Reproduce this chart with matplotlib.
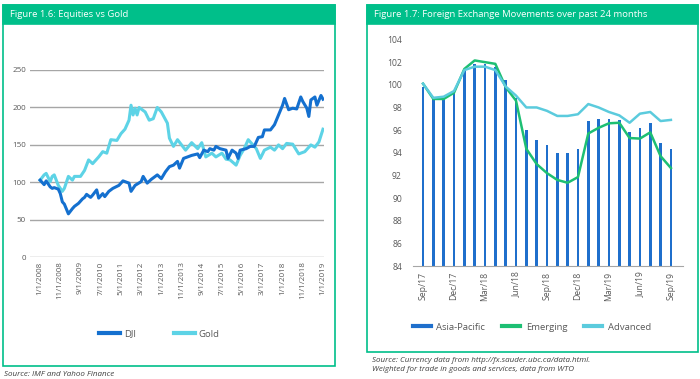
"""Equities vs gold, and FX movements over 24 months."""
import matplotlib
matplotlib.use('Agg')
from matplotlib import pyplot as plt
from matplotlib.lines import Line2D
from matplotlib.patches import Rectangle

# Figure 1.6 data (x = months since Jan 2008)
dji_month = [0, 2, 3, 5, 6, 7, 9, 10, 11, 12, 14, 16, 17, 19, 21, 22, 23, 25, 26, 28,
             29, 31, 32, 34, 36, 39, 41, 44, 45, 47, 50, 51, 53, 55, 58, 60, 62, 64, 66, 68,
             69, 71, 73, 75, 78, 79, 81, 83, 84, 86, 87, 89, 92, 93, 95, 97, 98, 99, 102, 104,
             106, 108, 110, 111, 114, 116, 118, 120, 121, 123, 125, 127, 129, 130, 132, 133,
             134, 136, 137, 139, 140]
dji = [103, 97, 102, 94, 92, 93, 91, 85, 74, 71, 58, 65, 68, 72, 78, 80, 84, 80, 83, 90,
       79, 85, 81, 88, 92, 96, 102, 99, 88, 96, 101, 108, 99, 104, 110, 105, 114, 121, 123, 128,
       119, 132, 134, 136, 138, 133, 143, 141, 145, 143, 148, 145, 143, 132, 143, 139, 132, 143,
       145, 148, 148, 160, 161, 170, 170, 177, 190, 203, 212, 197, 199, 198, 214, 208, 199, 188,
       210, 214, 203, 216, 211]
gold_month = [0, 2, 3, 5, 6, 7, 9, 11, 12, 14, 16, 17, 20, 22, 24, 26, 29, 31, 33, 35,
              38, 40, 42, 44, 45, 46, 47, 48, 49, 52, 54, 56, 58, 60, 63, 64, 66, 68, 72, 75,
              78, 80, 82, 85, 87, 90, 92, 94, 97, 99, 101, 103, 106, 107, 109, 111, 114, 116, 118, 120,
              122, 125, 128, 131, 134, 136, 138, 140]
gold = [103, 110, 112, 101, 108, 110, 96, 88, 92, 108, 103, 108, 108, 116, 130, 125, 134, 141, 139, 157,
        156, 165, 171, 183, 203, 190, 199, 190, 200, 194, 183, 185, 200, 194, 179, 159, 148, 157, 143, 153,
        145, 153, 134, 139, 134, 139, 131, 130, 123, 136, 145, 157, 148, 145, 132, 143, 147, 143, 150, 145,
        152, 151, 138, 141, 150, 147, 154, 171]
date_labels = ['1/1/2008', '11/1/2008', '9/1/2009', '7/1/2010', '5/1/2011', '3/1/2012',
               '1/1/2013', '11/1/2013', '9/1/2014', '7/1/2015', '5/1/2016', '3/1/2017',
               '1/1/2018', '11/1/2018', '1/1/2019']

# Figure 1.7 data (Sep/17 .. Sep/19)
fx_labels = ['Sep/17', 'Dec/17', 'Mar/18', 'Jun/18', 'Sep/18', 'Dec/18', 'Mar/19', 'Jun/19', 'Sep/19']
asia_pacific = [99.8, 98.8, 98.8, 99.3, 101.3, 101.8, 101.8, 101.6, 100.4, 98.85, 96.0, 95.1, 94.65,
                94.0, 93.95, 94.3, 96.8, 97.0, 96.95, 96.9, 95.85, 96.2, 96.6, 94.9, 94.35]
emerging = [100.1, 98.75, 98.75, 99.3, 101.4, 102.15, 102.0, 101.85, 99.8, 98.6, 94.35, 93.0, 92.2,
            91.6, 91.35, 91.85, 95.7, 96.2, 96.6, 96.65, 95.3, 95.25, 95.8, 93.7, 92.65]
advanced = [100.1, 98.85, 98.95, 99.45, 101.3, 101.6, 101.6, 101.3, 99.85, 99.05, 98.0, 98.0, 97.7,
            97.25, 97.25, 97.4, 98.3, 98.0, 97.6, 97.3, 96.65, 97.45, 97.6, 96.8, 96.9]

GREEN = '#00BF8A'
TXT = '#595959'
C_DJI, C_GOLD = '#1470CF', '#5DD3E6'
C_AP, C_EM, C_ADV = '#1F6FCC', '#1DBF73', '#5BCBDD'
plt.rcParams['font.family'] = ['Open Sans', 'DejaVu Sans']

fig = plt.figure(figsize=(7, 3.79), dpi=100)
W, H = 700, 379


def panel(x0, y0, x1, y1, title):
    # green frame with a header strip, in pixel coords
    fig.patches.append(Rectangle((x0 / W, 1 - y1 / H), (x1 - x0) / W, (y1 - y0) / H,
                                 transform=fig.transFigure, fill=False, ec=GREEN, lw=1.2))
    fig.patches.append(Rectangle((x0 / W, 1 - 24 / H), (x1 - x0) / W, (24 - y0) / H,
                                 transform=fig.transFigure, fc=GREEN, ec=GREEN, lw=1.2))
    fig.text((x0 + 7) / W, 1 - 14.5 / H, title, color='white', fontsize=6.8, va='center')


panel(3, 5, 335, 366, 'Figure 1.6: Equities vs Gold')
panel(367, 5, 698, 352, 'Figure 1.7: Foreign Exchange Movements over past 24 months')

# Left chart
ax = fig.add_axes([30 / W, 1 - 257.3 / H, 294 / W, 187.3 / H])
ax.plot(dji_month, dji, color=C_DJI, lw=2.2, zorder=3)
ax.plot(gold_month, gold, color=C_GOLD, lw=2.2, zorder=2)
ax.set_ylim(0, 250)
ax.set_xlim(-5, 140.5)
ax.set_yticks(range(0, 251, 50))
ax.set_xticks(range(0, 141, 10))
ax.set_xticklabels(date_labels, rotation=90)
ax.grid(axis='y', color='#A6A6A6', lw=1)
ax.set_axisbelow(True)
for s in ax.spines.values():
    s.set_visible(False)
ax.tick_params(length=0, labelsize=5.8, colors=TXT, pad=3)
ax.legend([Line2D([], [], color=C_DJI, lw=3), Line2D([], [], color=C_GOLD, lw=3)],
          ['DJI', 'Gold'], loc='center', bbox_to_anchor=(0.44, -0.41), ncol=2,
          frameon=False, fontsize=6.8, labelcolor=TXT, handlelength=2.2,
          handletextpad=0.4, columnspacing=4)

# Right chart
ax2 = fig.add_axes([413 / W, 1 - 266 / H, 270 / W, 226.5 / H])
idx = list(range(len(asia_pacific)))
ax2.bar(idx, [v - 84 for v in asia_pacific], bottom=84, width=0.27, color=C_AP, zorder=2)
ax2.plot(idx, emerging, color=C_EM, lw=1.8, zorder=3)
ax2.plot(idx, advanced, color=C_ADV, lw=1.8, zorder=3)
ax2.set_ylim(84, 104)
ax2.set_xlim(-0.97, 25.17)
ax2.set_yticks(range(84, 105, 2))
ax2.set_xticks(idx[::3])
ax2.set_xticklabels(fx_labels, rotation=90)
for s in ['top', 'right', 'left']:
    ax2.spines[s].set_visible(False)
ax2.spines['bottom'].set_color('#A6A6A6')
ax2.tick_params(length=0, labelsize=6.2, colors=TXT, pad=4)
ax2.tick_params(axis='y', pad=8)
ax2.legend([Line2D([], [], color=c, lw=3) for c in (C_AP, C_EM, C_ADV)],
           ['Asia-Pacific', 'Emerging', 'Advanced'], loc='center',
           bbox_to_anchor=(0.44, -0.27), ncol=3, frameon=False,
           fontsize=6.8, labelcolor=TXT, handlelength=1.9, handletextpad=0.6,
           columnspacing=1.8)

# Sources
fig.text(4 / W, 1 - 374 / H, 'Source: IMF and Yahoo Finance', fontsize=5.8,
         style='italic', color='#404040', va='center')
fig.text(372 / W, 1 - 360 / H, 'Source: Currency data from http://fx.sauder.ubc.ca/data.html.',
         fontsize=5.8, style='italic', color='#404040', va='center')
fig.text(372 / W, 1 - 369.5 / H, 'Weighted for trade in goods and services, data from WTO',
         fontsize=5.8, style='italic', color='#404040', va='center')

fig.savefig('out.png', dpi=100)
